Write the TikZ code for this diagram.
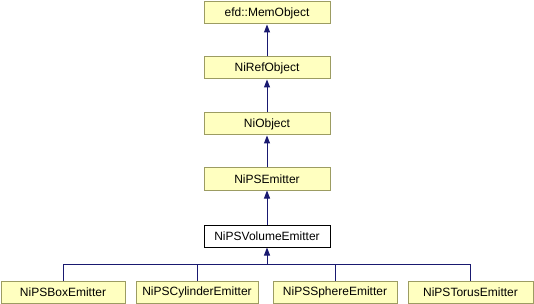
\documentclass[tikz,border=0pt]{standalone}
\usepackage{fontspec}
\setmainfont{Liberation Sans}
\usetikzlibrary{arrows.meta}
\definecolor{boxfill}{HTML}{FFFFC0}
\definecolor{boxline}{HTML}{9C9C62}
\definecolor{edgeblue}{HTML}{191970}
\begin{document}
\begin{tikzpicture}[x=1pt,y=-1pt,
  cls/.style={draw=boxline,fill=boxfill,line width=1pt,minimum height=22pt,
    inner sep=0pt,font=\fontsize{12}{14}\selectfont},
  cur/.style={cls,draw=black,fill=white},
  edge/.style={draw=edgeblue,line width=1pt,-{Triangle[length=8pt,width=6pt]}},
  bus/.style={draw=edgeblue,line width=1pt}]
\useasboundingbox (0,0) rectangle (534,304);
% inheritance chain
\node[cls,minimum width=126pt] (mem) at (267,13) {efd::MemObject};
\node[cls,minimum width=126pt] (ref) at (267,68) {NiRefObject};
\node[cls,minimum width=126pt] (obj) at (267,124) {NiObject};
\node[cls,minimum width=126pt] (emi) at (267,179) {NiPSEmitter};
\node[cur,minimum width=126pt] (vol) at (267,236) {NiPSVolumeEmitter};
% derived emitters
\node[cls,minimum width=124pt] (boxe) at (63,292) {NiPSBoxEmitter};
\node[cls,minimum width=122pt] (cyl) at (197,292) {NiPSCylinderEmitter};
\node[cls,minimum width=124pt] (sph) at (335,292) {NiPSSphereEmitter};
\node[cls,minimum width=125pt] (tor) at (470.5,292) {NiPSTorusEmitter};
\coordinate (junction) at (267,264);
% edges
\draw[edge] (ref) -- (mem);
\draw[edge] (obj) -- (ref);
\draw[edge] (emi) -- (obj);
\draw[edge] (vol) -- (emi);
\draw[edge] (junction) -- (vol);
\draw[bus] (boxe.north) |- (junction);
\draw[bus] (cyl.north) |- (junction);
\draw[bus] (sph.north) |- (junction);
\draw[bus] (tor.north) |- (junction);
\end{tikzpicture}
\end{document}
